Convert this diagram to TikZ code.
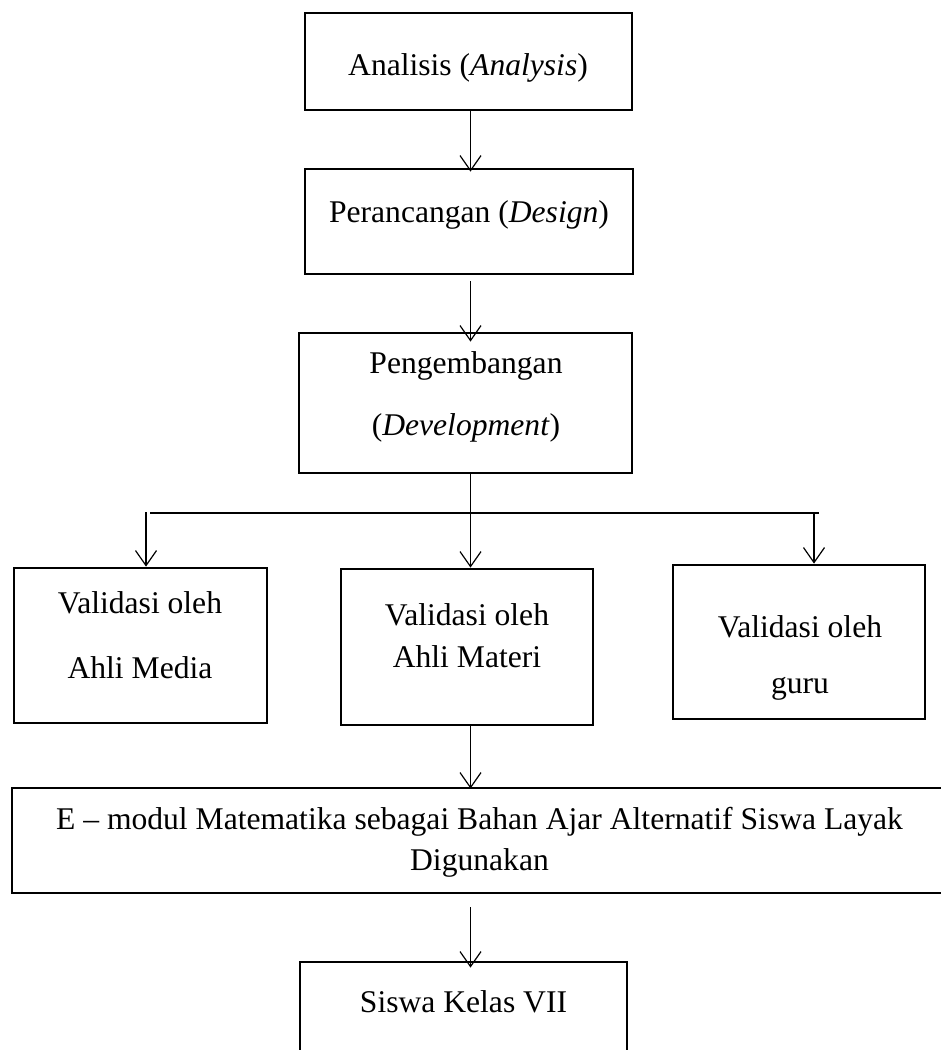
\documentclass[tikz,border=0pt]{standalone}
\usepackage{fontspec}
\setmainfont{Liberation Serif}
\usetikzlibrary{arrows.meta}
\begin{document}
\begin{tikzpicture}[x=0.5pt,y=-0.5pt,
  box/.style={draw, line width=1.4pt, rectangle, inner sep=0pt},
  txt/.style={anchor=base, inner sep=0pt, font=\fontsize{15.8pt}{19pt}\selectfont},
  ln/.style={line width=0.6pt},
  arr/.style={line width=0.6pt, -{Straight Barb[length=7.5pt,width=10.5pt,line width=0.6pt]}}]
\useasboundingbox (0,0) rectangle (941,1050);
\clip (0,0) rectangle (941,1050);
\fill[white] (0,0) rectangle (941,1050);

% boxes
\node[box, minimum width=163.5pt, minimum height=48.5pt] (b1) at (468.5,61.5) {};
\node[box, minimum width=164pt, minimum height=52.5pt] (b2) at (469,221.5) {};
\node[box, minimum width=166.5pt, minimum height=70pt] (b3) at (465.5,403) {};
\node[box, minimum width=126.5pt, minimum height=77.5pt] (b4) at (140.5,645.5) {};
\node[box, minimum width=126pt, minimum height=78pt] (b5) at (467,647) {};
\node[box, minimum width=126pt, minimum height=77pt] (b6) at (799,642) {};
\node[box, minimum width=474pt, minimum height=52.5pt] (b7) at (486,840.5) {};
\node[box, minimum width=163.5pt, minimum height=59pt] (b8) at (463.5,1021) {};

% texts
\node[txt] (t1) at (468,75) {Analisis (\textit{Analysis})};
\node[txt] (t2) at (469,222) {Perancangan (\textit{Design})};
\node[txt] (t3a) at (466,373) {Pengembangan};
\node[txt] (t3b) at (466,435) {(\textit{Development})};
\node[txt] (t4a) at (140,613) {Validasi oleh};
\node[txt] (t4b) at (140,678) {Ahli Media};
\node[txt] (t5a) at (467,625) {Validasi oleh};
\node[txt] (t5b) at (467,667) {Ahli Materi};
\node[txt] (t6a) at (800,637) {Validasi oleh};
\node[txt] (t6b) at (800,693) {guru};
\node[txt] (t7a) at (479.5,829) {E – modul Matematika sebagai Bahan Ajar Alternatif Siswa Layak};
\node[txt] (t7b) at (479.5,870) {Digunakan};
\node[txt] (t8) at (463.5,1012) {Siswa Kelas VII};

% connectors
\coordinate (ax) at (470.5,0);
\coordinate (hl) at (150,513);
\coordinate (hr) at (819,513);
\coordinate (jl) at (146,512);
\coordinate (jr) at (814,513);

\draw[arr, shorten >=-2pt] (b1.south -| ax) -- (b2.north -| ax);
\draw[arr, shorten <=3pt, shorten >=-5pt] (b2.south -| ax) -- (b3.north -| ax);
\draw[arr] (b3.south -| ax) -- (b5.north -| ax);
\draw[ln] (hl) -- (hr);
\draw[arr] (jl) -- (jl |- b4.north);
\draw[arr] (jr) -- (jr |- b6.north);
\draw[arr, shorten >=-1pt] (b5.south -| ax) -- (b7.north -| ax);
\draw[arr, shorten <=6.5pt, shorten >=-3.5pt] (b7.south -| ax) -- (b8.north -| ax);
\end{tikzpicture}
\end{document}
